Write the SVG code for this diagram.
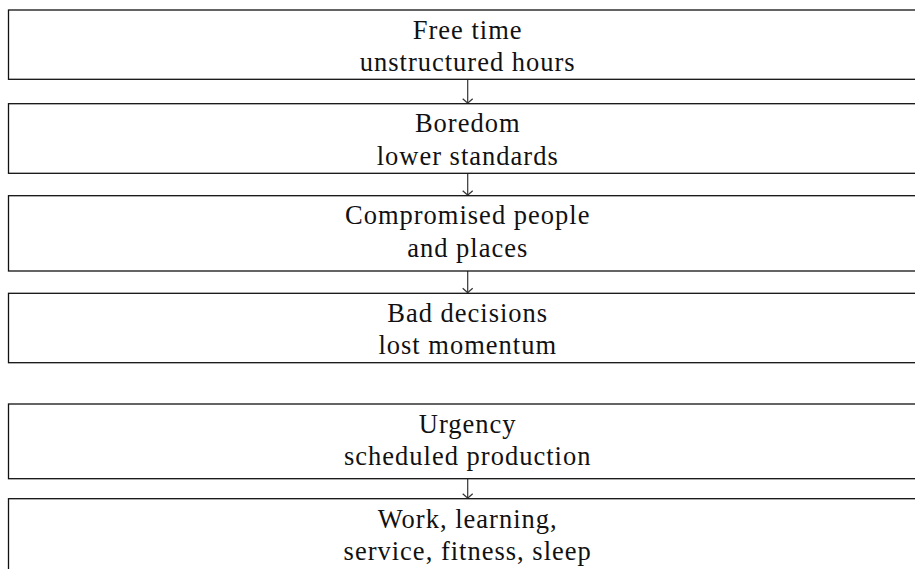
<svg xmlns="http://www.w3.org/2000/svg" width="915" height="569" viewBox="0 0 915 569">
  <style>
    .box { fill: #ffffff; stroke: #111111; stroke-width: 1.3; }
    .lbl { font-family: "Liberation Serif", "DejaVu Serif", serif; font-size: 26.5px; letter-spacing: 1px; fill: #111111; text-anchor: middle; }
    .link { stroke: #333333; stroke-width: 1.2; fill: none; marker-end: url(#to); }
  </style>
  <defs>
    <!-- curved open "to" arrowhead -->
    <marker id="to" markerUnits="userSpaceOnUse" markerWidth="14" markerHeight="12" viewBox="-7 -6 14 12" refX="0" refY="0" orient="auto">
      <path d="M -4.5 -5 Q -1.2 -1.2 0 0 Q -1.2 1.2 -4.5 5" fill="none" stroke="#333333" stroke-width="1.2"/>
    </marker>
  </defs>

  <rect width="915" height="569" fill="#ffffff"/>

  <g id="connectors">
    <line class="link" x1="467.7" y1="79.3" x2="467.7" y2="103.2"/>
    <line class="link" x1="467.7" y1="173.3" x2="467.7" y2="195.2"/>
    <line class="link" x1="467.7" y1="271" x2="467.7" y2="292.8"/>
    <line class="link" x1="467.7" y1="478.7" x2="467.7" y2="498.2"/>
  </g>

  <g id="free-time">
    <rect class="box" x="8.5" y="10" width="918" height="69.3"/>
    <text class="lbl" x="467.7" y="38.5">Free time</text>
    <text class="lbl" x="467.7" y="71">unstructured hours</text>
  </g>

  <g id="boredom">
    <rect class="box" x="8.5" y="103.7" width="918" height="69.6"/>
    <text class="lbl" x="467.7" y="132.2">Boredom</text>
    <text class="lbl" x="467.7" y="164.7">lower standards</text>
  </g>

  <g id="compromised">
    <rect class="box" x="8.5" y="195.7" width="918" height="75.3"/>
    <text class="lbl" x="467.7" y="224.2">Compromised people</text>
    <text class="lbl" x="467.7" y="256.7">and places</text>
  </g>

  <g id="bad-decisions">
    <rect class="box" x="8.5" y="293.3" width="918" height="69.4"/>
    <text class="lbl" x="467.7" y="321.8">Bad decisions</text>
    <text class="lbl" x="467.7" y="354.3">lost momentum</text>
  </g>

  <g id="urgency">
    <rect class="box" x="8.5" y="404" width="918" height="74.7"/>
    <text class="lbl" x="467.7" y="432.5">Urgency</text>
    <text class="lbl" x="467.7" y="465">scheduled production</text>
  </g>

  <g id="work">
    <rect class="box" x="8.5" y="498.7" width="918" height="75"/>
    <text class="lbl" x="467.7" y="527.5">Work, learning,</text>
    <text class="lbl" x="467.7" y="560">service, fitness, sleep</text>
  </g>
</svg>
